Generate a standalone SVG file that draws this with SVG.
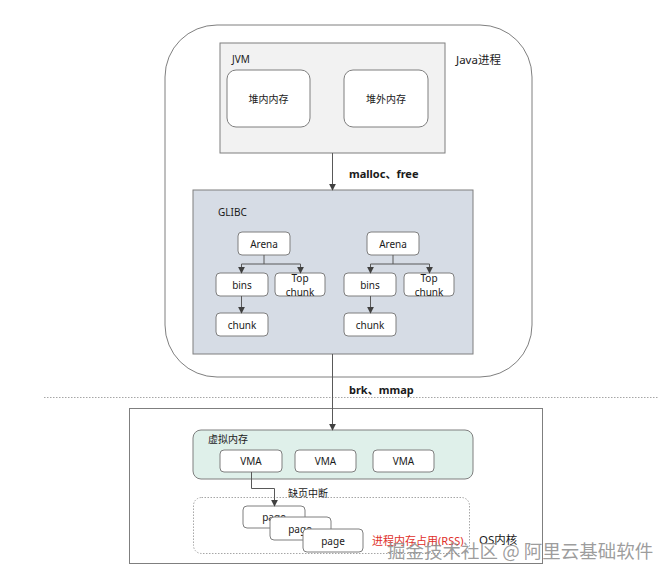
<svg xmlns="http://www.w3.org/2000/svg" width="659" height="577" viewBox="0 0 659 577">
<defs>
<style>
.t{font-family:"Noto Sans","Noto Sans CJK SC",sans-serif;font-size:10px;fill:#1a1a1a}
.c{text-anchor:middle;dominant-baseline:central}
.b{font-weight:bold;font-size:11px}
.box{fill:#fff;stroke:#7f7f7f;stroke-width:1}
.ln{fill:none;stroke:#595959;stroke-width:1}
</style>
<marker id="ah" viewBox="0 0 10 10" refX="9" refY="5" markerWidth="7" markerHeight="7" markerUnits="userSpaceOnUse" orient="auto">
<path d="M0,0 L10,5 L0,10 z" fill="#404040"/>
</marker>
</defs>
<rect width="659" height="577" fill="#fff"/>

<g id="java-process">
<rect x="165" y="25" width="367" height="352" rx="52" ry="52" fill="#fff" stroke="#7f7f7f"/>
<text class="t" x="456" y="64" style="font-size:11.5px">Java进程</text>
</g>

<g id="jvm">
<rect x="220" y="43" width="225" height="110" fill="#f2f2f2" stroke="#7f7f7f"/>
<text class="t" x="232" y="63">JVM</text>
</g>
<g id="heap-in">
<rect class="box" x="227" y="70" width="83" height="57" rx="9"/>
<text class="t c" x="268.5" y="99">堆内内存</text>
</g>
<g id="heap-out">
<rect class="box" x="344" y="70" width="84" height="57" rx="9"/>
<text class="t c" x="386" y="99">堆外内存</text>
</g>

<g id="glibc">
<rect x="193" y="190" width="280" height="164" fill="#d6dce5" stroke="#7f7f7f"/>
<text class="t" x="218" y="216">GLIBC</text>
</g>
<g id="arena1"><rect class="box" x="238" y="232" width="52" height="23" rx="4"/><text class="t c" x="264" y="243.5">Arena</text></g>
<g id="bins1"><rect class="box" x="216" y="273" width="52" height="23" rx="4"/><text class="t c" x="242" y="284.5">bins</text></g>
<g id="top1"><rect class="box" x="275" y="273" width="50" height="23" rx="4"/><text class="t c" x="300" y="278">Top</text><text class="t c" x="300" y="292">chunk</text></g>
<g id="chunk1"><rect class="box" x="216" y="313" width="52" height="23" rx="4"/><text class="t c" x="242" y="324.5">chunk</text></g>
<g id="arena2"><rect class="box" x="367" y="232" width="52" height="23" rx="4"/><text class="t c" x="393" y="243.5">Arena</text></g>
<g id="bins2"><rect class="box" x="344" y="273" width="52" height="23" rx="4"/><text class="t c" x="370" y="284.5">bins</text></g>
<g id="top2"><rect class="box" x="404" y="273" width="50" height="23" rx="4"/><text class="t c" x="429" y="278">Top</text><text class="t c" x="429" y="292">chunk</text></g>
<g id="chunk2"><rect class="box" x="344" y="313" width="52" height="23" rx="4"/><text class="t c" x="370" y="324.5">chunk</text></g>

<g id="divider">
<line x1="44" y1="397.5" x2="659" y2="397.5" stroke="#a6a6a6" stroke-width="1" stroke-dasharray="1.5,1.5"/>
</g>

<g id="os-kernel">
<rect x="129.5" y="408.5" width="413" height="155" fill="#fff" stroke="#7f7f7f"/>
<text class="t" x="479" y="544" style="font-size:11.5px">OS内核</text>
</g>
<g id="virtual-memory">
<rect x="193" y="430" width="280" height="49" rx="8" fill="#dff0ea" stroke="#7f7f7f"/>
<text class="t" x="208" y="443">虚拟内存</text>
</g>
<g id="vma1"><rect class="box" x="220" y="450" width="62" height="22" rx="4"/><text class="t c" x="251" y="461">VMA</text></g>
<g id="vma2"><rect class="box" x="295" y="450" width="61" height="22" rx="4"/><text class="t c" x="325.5" y="461">VMA</text></g>
<g id="vma3"><rect class="box" x="373" y="450" width="61" height="22" rx="4"/><text class="t c" x="403.5" y="461">VMA</text></g>

<g id="rss">
<rect x="193.5" y="497.5" width="276" height="56" rx="8" fill="none" stroke="#a6a6a6" stroke-dasharray="1.5,1.5"/>
<text class="t" x="372" y="545" style="fill:#e0302a;font-size:11px">进程内存占用(RSS)</text>
</g>
<g id="page1"><rect class="box" x="243" y="506" width="62" height="22" rx="4"/><text class="t c" x="274" y="517">page</text></g>
<g id="page2"><rect class="box" x="270" y="517" width="61" height="23" rx="4"/><text class="t c" x="300" y="528.5">page</text></g>
<g id="page3"><rect class="box" x="303" y="529" width="60" height="23" rx="4"/><text class="t c" x="333" y="540.5">page</text></g>

<g id="connectors">
<line class="ln" x1="332.5" y1="153" x2="332.5" y2="190" marker-end="url(#ah)"/>
<text class="t b" x="349" y="178">malloc、free</text>
<path class="ln" d="M264,255 V264 M241.5,264 H300.5"/>
<line class="ln" x1="241.5" y1="264" x2="241.5" y2="273" marker-end="url(#ah)"/>
<line class="ln" x1="300.5" y1="264" x2="300.5" y2="273" marker-end="url(#ah)"/>
<line class="ln" x1="241.5" y1="296" x2="241.5" y2="313" marker-end="url(#ah)"/>
<path class="ln" d="M393,255 V264 M370.5,264 H429.5"/>
<line class="ln" x1="370.5" y1="264" x2="370.5" y2="273" marker-end="url(#ah)"/>
<line class="ln" x1="429.5" y1="264" x2="429.5" y2="273" marker-end="url(#ah)"/>
<line class="ln" x1="370.5" y1="296" x2="370.5" y2="313" marker-end="url(#ah)"/>
<line class="ln" x1="332.5" y1="354" x2="332.5" y2="430" marker-end="url(#ah)"/>
<text class="t b" x="349" y="394">brk、mmap</text>
<path class="ln" d="M251.5,472 V488.5 H274.5 V506" marker-end="url(#ah)"/>
<text class="t" x="288" y="497">缺页中断</text>
</g>

<g id="watermark">
<text x="387" y="558" style="font-family:'Noto Sans CJK SC','Noto Sans',sans-serif;font-size:18.5px;fill:#8c8c8c;fill-opacity:0.85">掘金技术社区 @ 阿里云基础软件</text>
</g>
</svg>
